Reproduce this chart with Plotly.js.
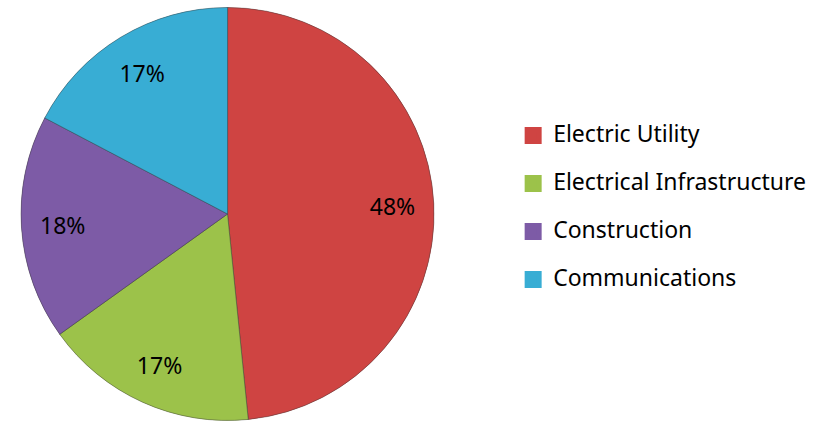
<!DOCTYPE html>
<html>
<head>
<meta charset="utf-8">
<script src="https://cdn.plot.ly/plotly-3.0.1.min.js"></script>
<style>html,body{margin:0;padding:0;background:#fff;}#chart{width:825px;height:422px;}</style>
</head>
<body>
<div id="chart"></div>
<script>
// Data
const categories = ["Electric Utility", "Electrical Infrastructure", "Construction", "Communications"];
const shares = [48.4, 16.7, 17.6, 17.3];
const sliceColors = ["#CF4442", "#9CC24A", "#7D5BA6", "#38ADD4"];

const textFamily = "'Noto Sans', 'Open Sans', sans-serif";
const legendTextSize = 23;
const legendLabels = categories.map(c => "<span style='font-size:" + legendTextSize + "px'>" + c + "</span><br>\u00a0");
const pieDomain = { x: [0.0255, 0.5261], y: [0.0024, 0.9834] };
const innerDomain = { x: [0.0285, 0.5231], y: [0.0083, 0.9775] };

// Underlay pie: supplies the legend (thick same-colour outline gives larger legend squares)
const legendTrace = {
  type: "pie",
  labels: legendLabels,
  values: shares,
  sort: false,
  direction: "clockwise",
  rotation: 0,
  marker: { colors: sliceColors, line: { color: sliceColors, width: 5 } },
  textinfo: "none",
  hoverinfo: "none",
  showlegend: true,
  domain: innerDomain
};

// Main filled pie
const pieTrace = {
  type: "pie",
  labels: legendLabels,
  values: shares,
  sort: false,
  direction: "clockwise",
  rotation: 0,
  marker: { colors: sliceColors, line: { color: "rgba(60,60,60,0.45)", width: 1 } },
  textinfo: "none",
  hoverinfo: "none",
  showlegend: false,
  domain: pieDomain
};

// Transparent ring carrying the percentage labels at ~0.8 of the radius
const labelTrace = {
  type: "pie",
  labels: legendLabels,
  values: shares,
  sort: false,
  direction: "clockwise",
  rotation: 0,
  hole: 0.6,
  showlegend: false,
  marker: { colors: sliceColors.map(() => "rgba(0,0,0,0)"), line: { width: 0 } },
  textinfo: "percent",
  texttemplate: "%{percent:.0%}",
  textposition: "inside",
  insidetextorientation: "horizontal",
  textfont: { family: textFamily, size: 23, color: "#000" },
  hoverinfo: "none",
  domain: pieDomain
};

const layout = {
  width: 825, height: 422,
  margin: { l: 0, r: 0, t: 0, b: 0 },
  paper_bgcolor: "#fff",
  plot_bgcolor: "#fff",
  font: { family: textFamily, color: "#000" },
  showlegend: true,
  legend: {
    x: 0.622, xanchor: "left",
    y: 0.721, yanchor: "top",
    font: { size: 17.3, color: "#000" },
    valign: "top",
    bgcolor: "rgba(0,0,0,0)",
    traceorder: "normal"
  }
};

Plotly.newPlot("chart", [legendTrace, pieTrace, labelTrace], layout, { displayModeBar: false, staticPlot: true });
</script>
</body>
</html>
